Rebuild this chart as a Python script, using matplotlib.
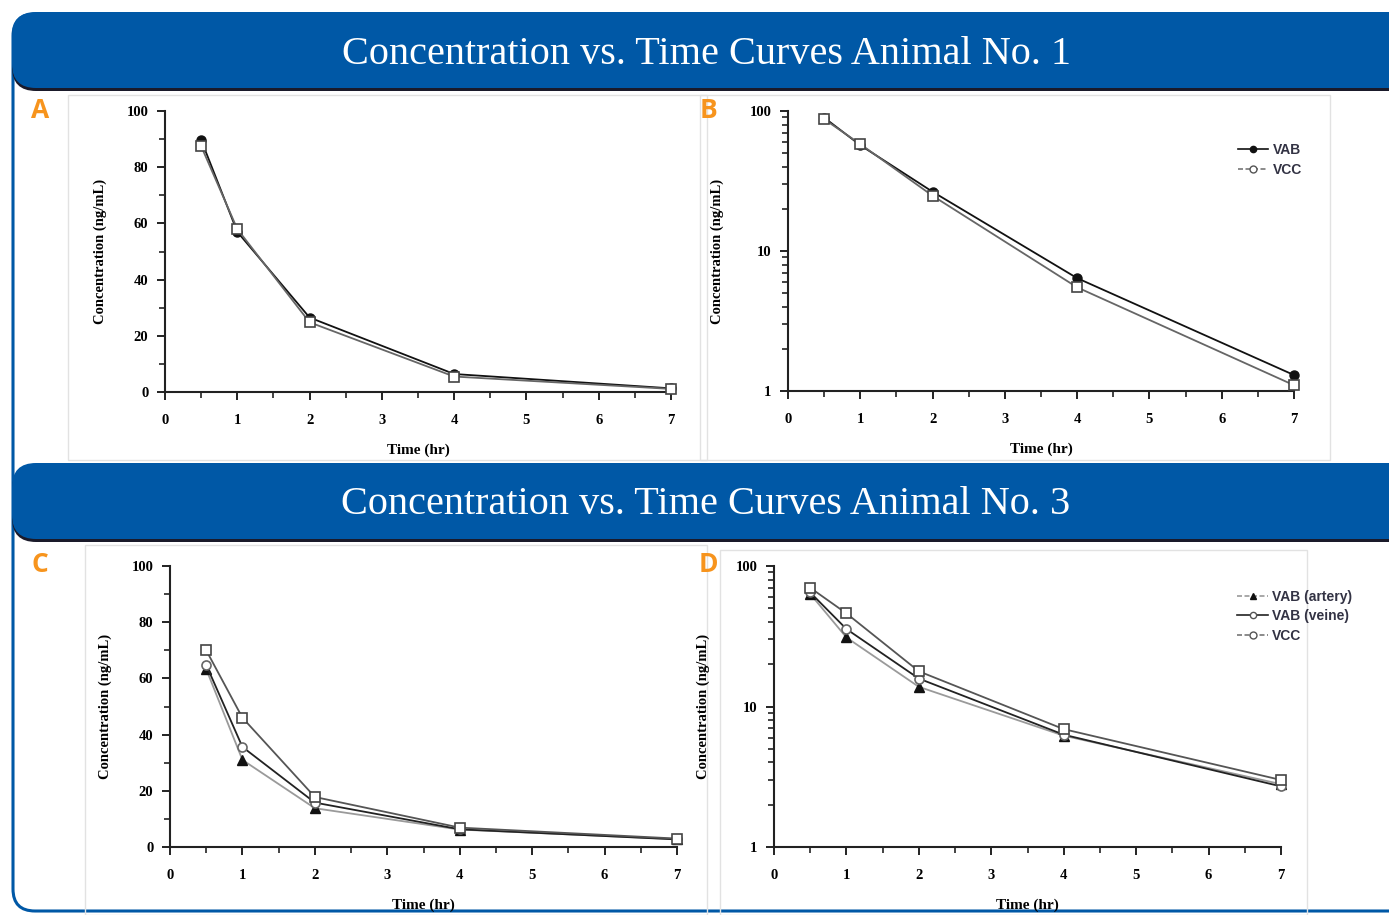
import matplotlib
matplotlib.use("Agg")
import matplotlib.pyplot as plt
from matplotlib.patches import FancyBboxPatch, Rectangle
from matplotlib.lines import Line2D
from matplotlib.ticker import MultipleLocator, LogLocator, FixedLocator, NullFormatter

# ---------------- data ----------------
time_hr = [0.5, 1, 2, 4, 7]
a1_vab = [89.7, 57.0, 26.5, 6.4, 1.3]
a1_vcc = [87.5, 58.0, 24.8, 5.5, 1.1]
a3_artery = [63.3, 31.0, 13.8, 6.2, 2.8]
a3_veine = [64.8, 35.6, 15.8, 6.3, 2.7]
a3_vcc = [70.0, 46.0, 17.8, 6.9, 3.0]
titles = ["Concentration vs. Time Curves Animal No. 1",
          "Concentration vs. Time Curves Animal No. 3"]
panel_letters = ["A", "B", "C", "D"]
legend1 = ["VAB", "VCC"]
legend3 = ["VAB (artery)", "VAB (veine)", "VCC"]

W, H = 1389, 915
fig = plt.figure(figsize=(W / 100, H / 100), dpi=100)
fig.patch.set_facecolor("white")

BLUE = "#0058A6"
ORANGE = "#F7941D"
SERIF = "Liberation Serif"

# background axes in pixel coordinates
bg = fig.add_axes([0, 0, 1, 1], zorder=0)
bg.set_xlim(0, W)
bg.set_ylim(H, 0)
bg.axis("off")

# outer rounded border
bg.add_patch(FancyBboxPatch((13, 14), 1420, 897, boxstyle="round,pad=0,rounding_size=22",
                            fc="none", ec=BLUE, lw=2.2))
# light gray panel frames
for (x0, y0, x1, y1) in [(68, 95, 707, 460), (700, 95, 1330, 460),
                         (85, 545, 707, 915), (720, 550, 1307, 915)]:
    bg.add_patch(Rectangle((x0, y0), x1 - x0, y1 - y0, fc="none", ec="#e2e2e2", lw=1.0))

# banners
for (y0, txt) in [(12, titles[0]), (463, titles[1])]:
    bg.add_patch(FancyBboxPatch((12, y0 + 3), 1420, 76, boxstyle="round,pad=0,rounding_size=24",
                                fc="#1a1a2a", ec="none"))
    bg.add_patch(FancyBboxPatch((12, y0), 1420, 76, boxstyle="round,pad=0,rounding_size=24",
                                fc=BLUE, ec="none"))
    bg.text(706, y0 + 42, txt, color="white", fontsize=29, family=SERIF,
            ha="center", va="center")

# panel letters
for (x, y, L) in [(40, 111, "A"), (708, 111, "B"), (40, 565, "C"), (708, 565, "D")]:
    bg.text(x, y, L, color=ORANGE, fontsize=19, fontweight="bold",
            family="Open Sans", ha="center", va="center")


def style_axes(ax, log=False):
    for s in ["top", "right"]:
        ax.spines[s].set_visible(False)
    for s in ["left", "bottom"]:
        ax.spines[s].set_linewidth(1.5)
        ax.spines[s].set_color("#222222")
    ax.set_xlim(0, 7)
    ax.xaxis.set_major_locator(MultipleLocator(1))
    ax.xaxis.set_minor_locator(MultipleLocator(0.5))
    if log:
        ax.set_yscale("log")
        ax.set_ylim(1, 100)
        ax.yaxis.set_major_locator(FixedLocator([1, 10, 100]))
        ax.yaxis.set_minor_locator(LogLocator(base=10, subs=range(2, 10)))
        ax.yaxis.set_minor_formatter(NullFormatter())
        ax.set_yticklabels(["1", "10", "100"])
    else:
        ax.set_ylim(0, 100)
        ax.yaxis.set_major_locator(MultipleLocator(20))
        ax.yaxis.set_minor_locator(MultipleLocator(10))
    ax.tick_params(which="major", direction="out", length=6, width=1.4, color="#222222",
                   labelsize=10.5)
    ax.tick_params(axis="x", which="major", pad=10)
    ax.tick_params(axis="y", which="major", pad=6)
    ax.tick_params(which="minor", direction="out", length=4, width=1.2, color="#222222")
    for lab in ax.get_xticklabels() + ax.get_yticklabels():
        lab.set_family(SERIF)
        lab.set_fontweight("bold")
    ax.set_xlabel("Time (hr)", family=SERIF, fontweight="bold", fontsize=11, labelpad=12)
    ax.set_ylabel("Concentration (ng/mL)", family=SERIF, fontweight="bold", fontsize=10.5,
                  labelpad=14 if not log else 18)
    ax.patch.set_alpha(0)


def frac(x0, y0, x1, y1):
    return [x0 / W, 1 - y1 / H, (x1 - x0) / W, (y1 - y0) / H]


axA = fig.add_axes(frac(165, 111, 671, 392), zorder=2)
axB = fig.add_axes(frac(788, 111, 1294, 391), zorder=2)
axC = fig.add_axes(frac(170, 566, 677, 847), zorder=2)
axD = fig.add_axes(frac(774, 566, 1281, 847), zorder=2)

ms = 6.5
for ax, log in [(axA, False), (axB, True)]:
    ax.plot(time_hr, a1_vcc, color="#666666", lw=1.3, marker="s", ms=ms, mfc="white",
            mec="#444444", mew=1.2, clip_on=False, zorder=3)
    ax.plot(time_hr, a1_vab, color="#111111", lw=1.3, marker="o", ms=ms, mfc="#111111",
            mec="#111111", clip_on=False, zorder=2)
    style_axes(ax, log)

for ax, log in [(axC, False), (axD, True)]:
    ax.plot(time_hr, a3_artery, color="#9a9a9a", lw=1.3, marker="^", ms=ms, mfc="#111111",
            mec="#111111", clip_on=False, zorder=2)
    ax.plot(time_hr, a3_veine, color="#222222", lw=1.3, marker="o", ms=ms, mfc="white",
            mec="#666666", mew=1.2, clip_on=False, zorder=3)
    ax.plot(time_hr, a3_vcc, color="#555555", lw=1.3, marker="s", ms=ms, mfc="white",
            mec="#444444", mew=1.2, clip_on=False, zorder=4)
    style_axes(ax, log)

# legends
h1 = [Line2D([], [], color="#111111", lw=1.2, marker="o", ms=4.5, mfc="#111111"),
      Line2D([], [], color="#777777", lw=1.2, ls=(0, (3, 1.5)), marker="o", ms=5, mfc="white", mec="#555555")]
axB.legend(h1, legend1, loc="upper left", bbox_to_anchor=(0.875, 0.91), frameon=False,
           prop={"family": "Liberation Sans", "weight": "bold", "size": 10},
           handlelength=2.2, handletextpad=0.3, labelspacing=0.4, borderpad=0, labelcolor="#333344")
h3 = [Line2D([], [], color="#9a9a9a", lw=1.2, ls=(0, (3, 1.5)), marker="^", ms=4.5, mfc="#111111", mec="#111111"),
      Line2D([], [], color="#222222", lw=1.2, marker="o", ms=4.5, mfc="white", mec="#555555"),
      Line2D([], [], color="#777777", lw=1.2, ls=(0, (3, 1.5)), marker="o", ms=5, mfc="white", mec="#555555")]
axD.legend(h3, legend3, loc="upper left", bbox_to_anchor=(0.9, 0.94), frameon=False,
           prop={"family": "Liberation Sans", "weight": "bold", "size": 10},
           handlelength=2.2, handletextpad=0.3, labelspacing=0.4, borderpad=0, labelcolor="#333344")

fig.savefig("out.png", dpi=100)
